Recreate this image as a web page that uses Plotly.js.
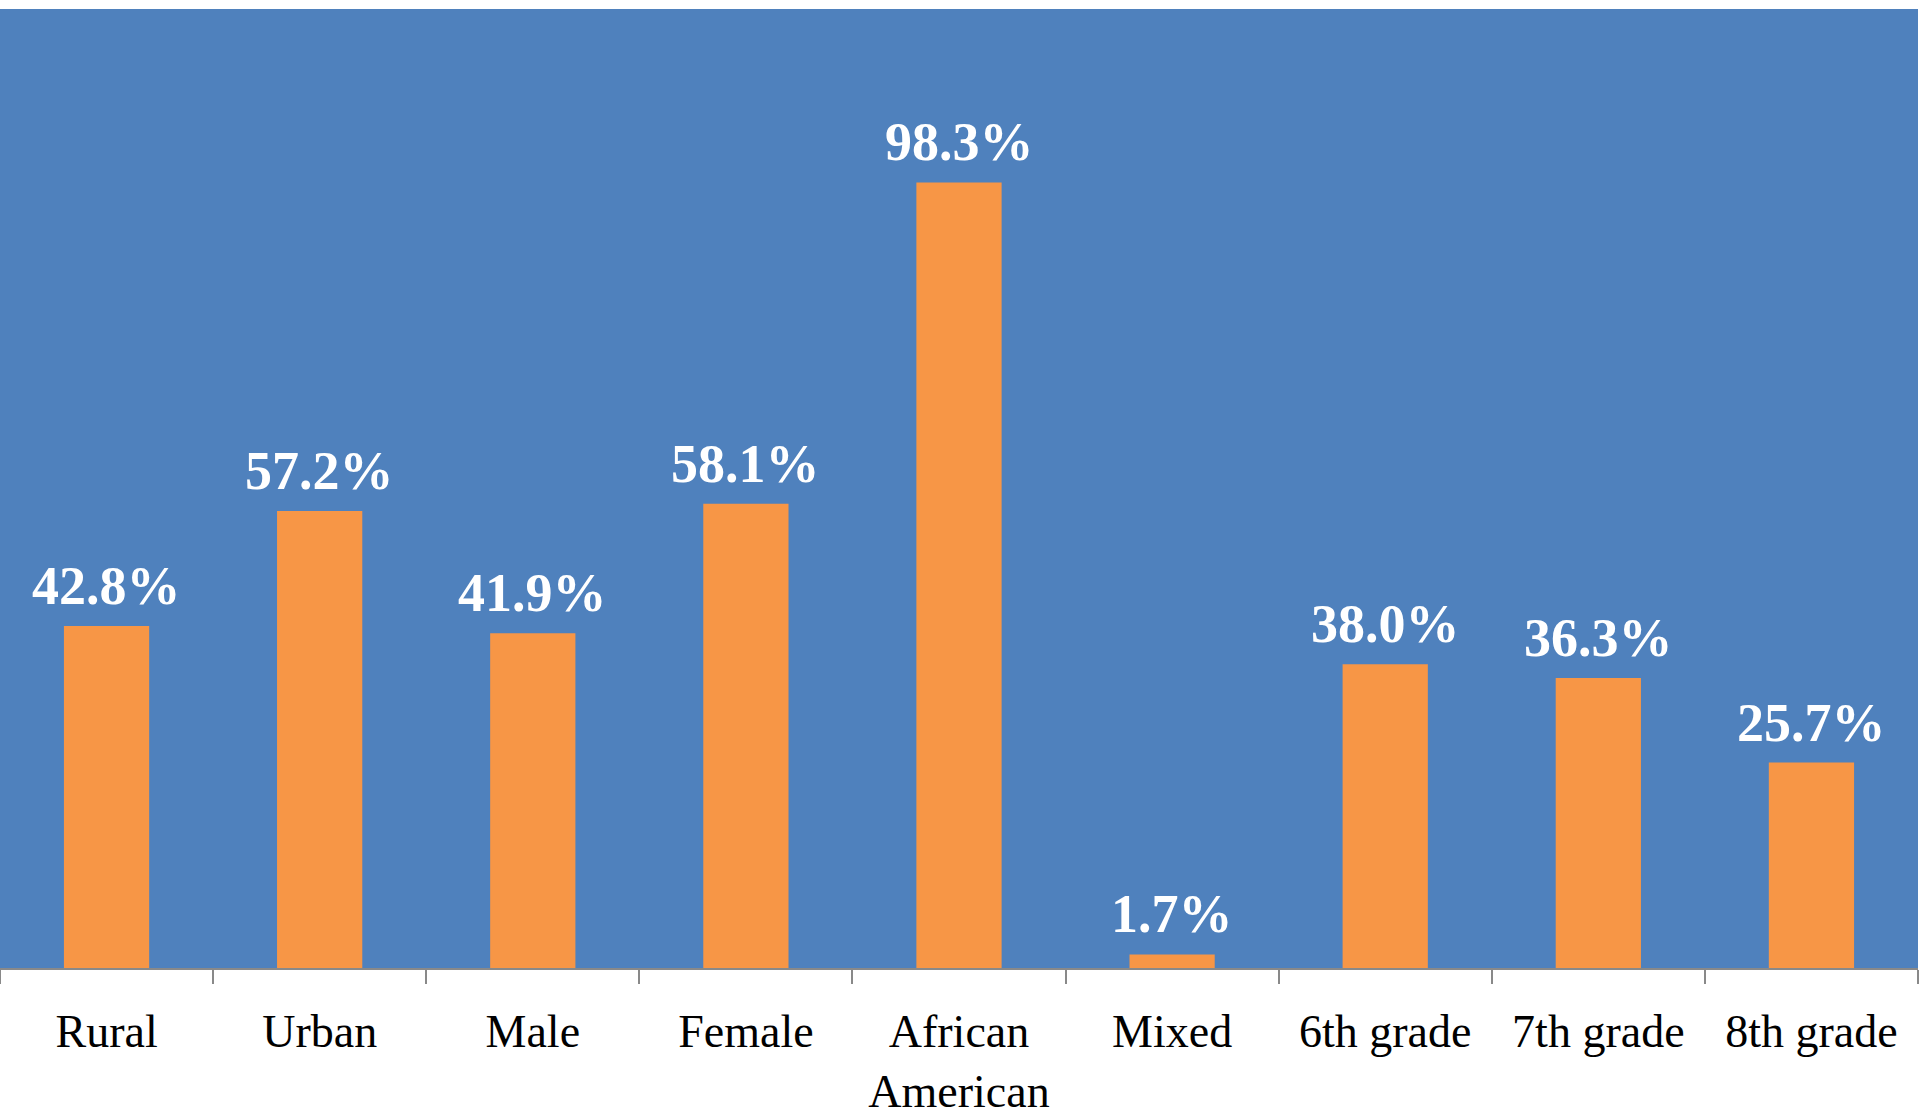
<!DOCTYPE html>
<html>
<head>
<meta charset="utf-8">
<script src="https://cdn.plot.ly/plotly-3.0.1.min.js"></script>
<style>html,body{margin:0;padding:0;background:#fff;}#chart{width:1920px;height:1115px;}</style>
</head>
<body>
<div id="chart"></div>
<script>
const categories = ["Rural", "Urban", "Male", "Female", "African<br>American", "Mixed", "6th grade", "7th grade", "8th grade"];
const values = [42.8, 57.2, 41.9, 58.1, 98.3, 1.7, 38.0, 36.3, 25.7];
const valueLabels = values.map(v => v.toFixed(1) + "%");

const trace = {
  type: "bar",
  x: categories,
  y: values,
  marker: {color: "#F79646", line: {width: 0}},
  hoverinfo: "skip"
};

const annotations = categories.map((c, i) => ({
  x: c, y: values[i], xref: "x", yref: "y",
  text: valueLabels[i], showarrow: false,
  yanchor: "bottom", yshift: 8,
  font: {family: "Liberation Serif, Times New Roman, serif", size: 54, color: "#FFFFFF", weight: "bold"}
}));

const layout = {
  width: 1920, height: 1115,
  margin: {l: 0, r: 2, t: 9, b: 147, pad: 0},
  paper_bgcolor: "#FFFFFF",
  plot_bgcolor: "#4F81BD",
  bargap: 0.6,
  showlegend: false,
  xaxis: {
    type: "category",
    showgrid: false,
    showline: true, linecolor: "#898989", linewidth: 2,
    ticks: "outside", ticklen: 14, tickwidth: 2, tickcolor: "#898989",
    tickson: "boundaries",
    tickfont: {family: "Liberation Serif, Times New Roman, serif", size: 46, color: "#000000"},
    ticklabelstandoff: 22,
    zeroline: false
  },
  yaxis: {
    range: [0, 120],
    visible: false,
    showgrid: false,
    zeroline: false
  },
  annotations: annotations
};

Plotly.newPlot("chart", [trace], layout, {displayModeBar: false, staticPlot: true});
</script>
</body>
</html>
